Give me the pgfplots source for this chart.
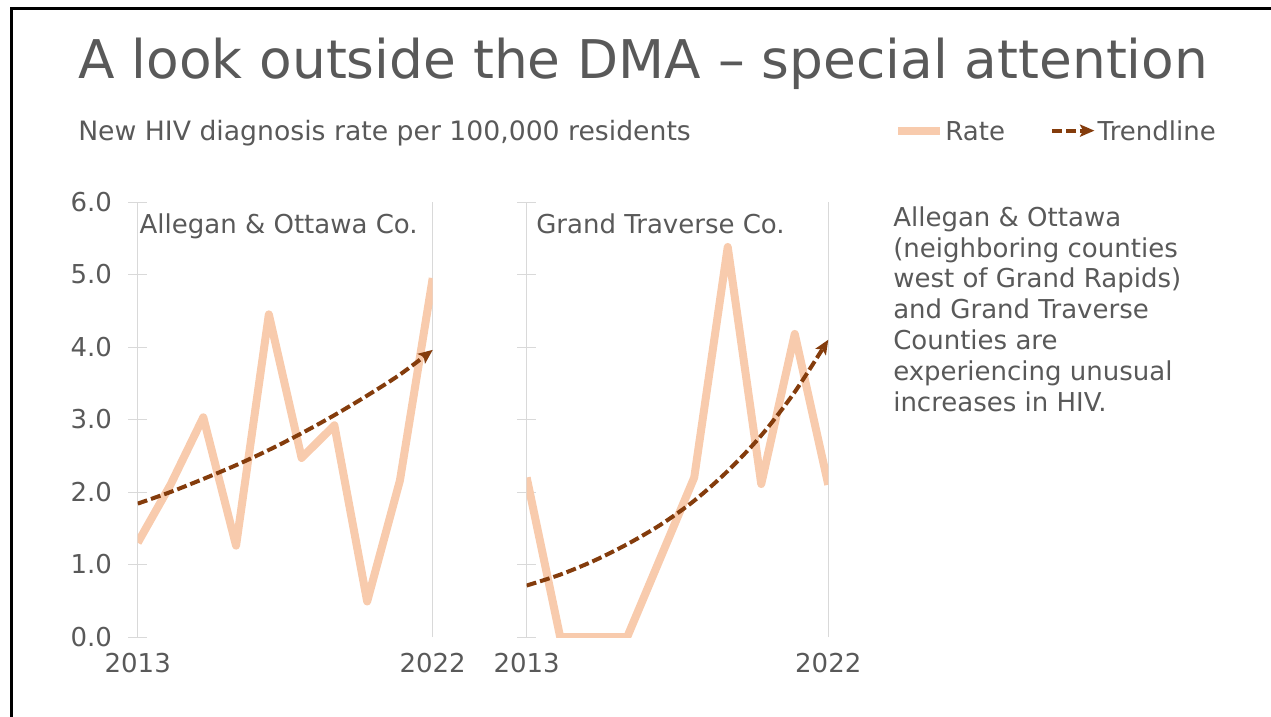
\documentclass[border=0pt]{standalone}
\usepackage{fontspec}
\setmainfont{DejaVu Sans}
\usepackage{pgfplots}
\usepackage{pgfplotstable}
\pgfplotsset{compat=1.18}
\usetikzlibrary{arrows.meta}

\definecolor{txtgray}{HTML}{595959}
\definecolor{axgray}{HTML}{D9D9D9}
\definecolor{rateC}{HTML}{F8CBAD}
\definecolor{trendC}{HTML}{843C0C}

% New HIV diagnosis rate per 100,000 residents, with exponential trend
\pgfplotstableread{
year rate trend
2013 1.30 1.84
2014 2.10 2.00
2015 3.03 2.18
2016 1.26 2.37
2017 4.45 2.58
2018 2.47 2.81
2019 2.92 3.06
2020 0.49 3.33
2021 2.16 3.62
2022 4.95 3.96
}\allegan

\pgfplotstableread{
year rate trend
2013 2.20 0.71
2014 0.00 0.86
2015 0.00 1.05
2016 0.00 1.28
2017 1.10 1.55
2018 2.20 1.88
2019 5.38 2.29
2020 2.11 2.78
2021 4.18 3.38
2022 2.10 4.10
}\traverse

\pgfplotsset{
  panel/.style={
    scale only axis, height=326.25pt,
    anchor=south west,
    xmin=2013, xmax=2022, ymin=0, ymax=6,
    axis line style={draw=none},
    xtick={2013,2022}, xticklabels={2013,2022},
    xmajorgrids, major grid style={draw=axgray, line width=0.75pt},
    x tick style={draw=none},
    ytick={0,1,2,3,4,5,6}, ytick pos=left,
    tick align=center, major tick length=14.25pt,
    y tick style={draw=axgray, line width=0.75pt},
    tick label style={font=\fontsize{19.5}{23}\selectfont, text=txtgray},
    xticklabel style={anchor=north, inner sep=0pt, yshift=-4.5pt},
    yticklabel style={anchor=east, inner sep=0pt, xshift=-12pt,
      /pgf/number format/.cd, fixed, fixed zerofill, precision=1,
      assume math mode=true},
  },
  rate/.style={draw=rateC, line width=6pt, line join=round, no markers},
  trend/.style={draw=trendC, line width=3pt, dash pattern=on 7.5pt off 3pt,
    smooth, no markers,
    -{Stealth[length=11pt,width=9.5pt,inset=2.5pt,sep=0pt,line width=0pt]}},
}

\begin{document}
\begin{tikzpicture}
\useasboundingbox (0pt,0pt) rectangle (953.25pt,-537.75pt);

% slide frame
\draw[line width=2.25pt] (8.25pt,-545pt) -- (8.25pt,-6.4pt) -- (960pt,-6.4pt);

\node[anchor=base west, inner sep=0pt, text=txtgray,
  font=\fontsize{40}{48}\selectfont] at (58.5pt,-59.25pt)
  {A look outside the DMA – special attention};
\node[anchor=base west, inner sep=0pt, text=txtgray,
  font=\fontsize{20}{24}\selectfont] at (58.5pt,-105.75pt)
  {New HIV diagnosis rate per 100,000 residents};

% Allegan & Ottawa panel
\begin{axis}[panel, at={(103.3pt,-477.75pt)}, width=221.25pt,
  legend columns=2,
  legend style={at={(2.564,1.161)}, anchor=west, draw=none, fill=none,
    inner sep=0pt, outer sep=0pt, nodes={inner sep=0pt},
    font=\fontsize{19.5}{23}\selectfont, text=txtgray,
    column sep=1pt,
    /tikz/every even column/.append style={column sep=34pt}},
  legend image code/.code={\draw[#1] (0pt,1pt) -- (31.5pt,1pt);},
]
\addplot[rate] table[x=year, y=rate] {\allegan};
\addlegendentry{Rate}
\addplot[trend] table[x=year, y=trend] {\allegan};
\addlegendentry{Trendline}
\end{axis}

% Grand Traverse panel
\begin{axis}[panel, at={(395pt,-477.75pt)}, width=226.2pt, yticklabels={}]
\addplot[rate] table[x=year, y=rate] {\traverse};
\addplot[trend] table[x=year, y=trend] {\traverse};
\end{axis}

\begin{scope}[every node/.style={anchor=base west, inner sep=0pt, text=txtgray,
  font=\fontsize{19.5}{23}\selectfont}]
\node at (104.5pt,-174.75pt) {Allegan \& Ottawa Co.};
\node at (402pt,-174.75pt) {Grand Traverse Co.};
\node at (669.75pt,-169.5pt) {Allegan \& Ottawa};
\node at (669.75pt,-192.75pt) {(neighboring counties};
\node at (669.75pt,-215.25pt) {west of Grand Rapids)};
\node at (669.75pt,-238.5pt) {and Grand Traverse};
\node at (669.75pt,-261.75pt) {Counties are};
\node at (669.75pt,-285pt) {experiencing unusual};
\node at (669.75pt,-308.25pt) {increases in HIV.};
\end{scope}
\end{tikzpicture}
\end{document}
